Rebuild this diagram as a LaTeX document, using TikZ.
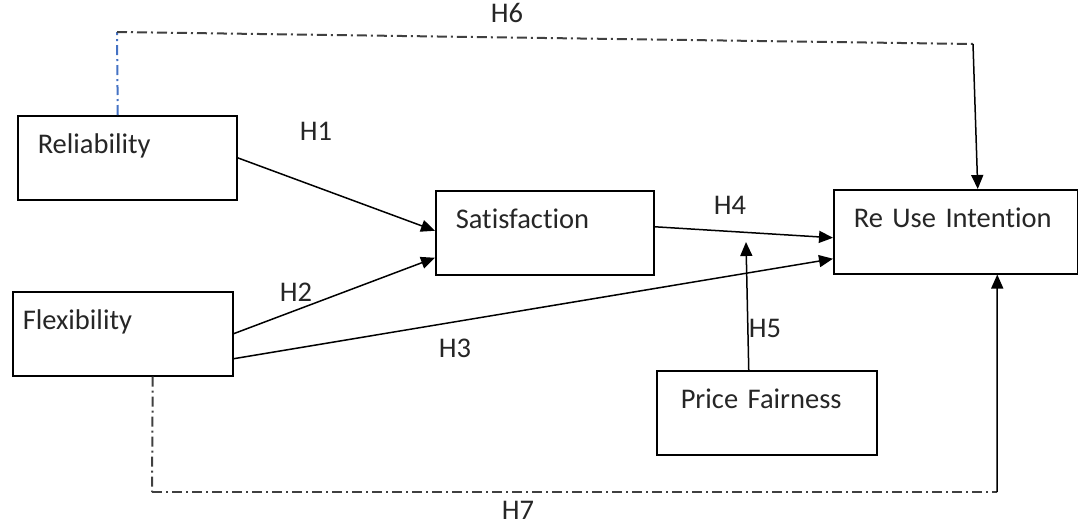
\documentclass[tikz,border=0pt]{standalone}
\usepackage{fontspec}
\setmainfont{Carlito}[Ligatures={NoCommon,NoRare}]
\usepackage{tikz}
\usetikzlibrary{arrows.meta,positioning}
\definecolor{wordblue}{RGB}{68,114,196}
\tikzstyle{factor}=[
	rectangle,
	draw=black,
	line width=1.5pt,
	anchor=north west,
	inner xsep=20pt,
	inner ysep=0pt,
	text height=38pt,
	text depth=46pt,
	align=left,
	text=black!85,
	font=\fontsize{28.5}{30}\selectfont
]
\tikzstyle{link}=[
	line width=1.5pt,
	draw=black,
	-{Triangle[length=14pt,width=12pt]}
]
\tikzstyle{dashlink}=[
	line width=2pt,
	draw=black!75,
	dash pattern=on 10pt off 4pt on 2pt off 4pt
]
\tikzstyle{hyp}=[
	inner sep=0pt,
	text=black!85,
	font=\fontsize{28.5}{30}\selectfont
]

\begin{document}
\begin{tikzpicture}[x=1pt,y=-1pt]
\useasboundingbox (0,0) rectangle (1078,528);

\node[factor, text width=179pt] (rel) at (17,115) {Reliability};
\node[factor, text width=178pt] (sat) at (435,190) {Satisfaction};
\node[factor, text width=204pt] (reuse) at (833,189) {Re Use Intention};
\node[factor, text width=200pt, inner xsep=10pt] (flex) at (12,291) {Flexibility};
\node[factor, text width=172pt, inner xsep=24pt] (price) at (656,370) {Price Fairness};

\coordinate (h6a) at (117,32);
\coordinate (h6b) at (973,44);
\coordinate (h7a) at (152,492);
\coordinate (h7b) at (997,492);
\coordinate (mod) at (746,242);

\draw[link] (rel.east) to ([yshift=2pt]sat.west);
\draw[link] (flex.east) to ([yshift=-25pt]sat.west);
\draw[link] ([yshift=-25pt]flex.east) to ([yshift=-27pt]reuse.west);
\draw[link] ([yshift=6pt]sat.east) to ([yshift=-6pt]reuse.west);
\draw[link] ([xshift=-18pt]price.north) to (mod);

\draw[dashlink, draw=wordblue] ([xshift=-9.5pt]rel.north) to (h6a);
\draw[dashlink] (h6a) to (h6b);
\draw[link] (h6b) to ([xshift=22pt]reuse.north);

\draw[dashlink] ([xshift=30pt]flex.south) to (h7a);
\draw[dashlink] (h7a) to (h7b);
\draw[link] (h7b) to ([xshift=41.5pt]reuse.south);

\node[hyp] (l1) at (316,131) {H1};
\node[hyp] (l2) at (296,292) {H2};
\node[hyp] (l3) at (455,348) {H3};
\node[hyp] (l4) at (730,205) {H4};
\node[hyp] (l5) at (765,328) {H5};
\node[hyp] (l6) at (507,13) {H6};
\node[hyp] (l7) at (518,510) {H7};

\end{tikzpicture}
\end{document}
